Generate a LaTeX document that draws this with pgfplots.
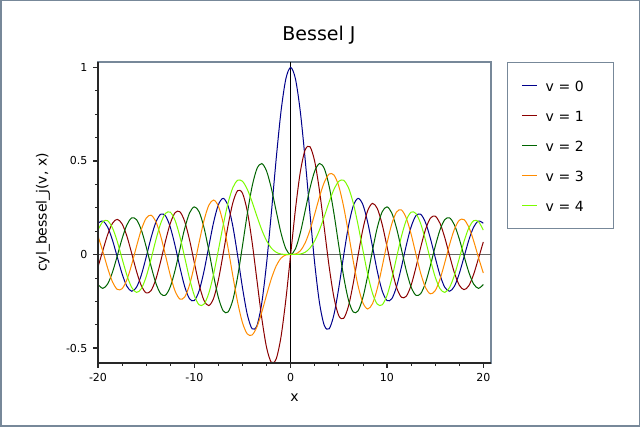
\documentclass[border=0pt]{standalone}
\usepackage{pgfplots}
\pgfplotsset{compat=1.18}
\usepackage{pgfplotstable}
\usepackage{fontspec}
\setmainfont{DejaVu Sans}
\definecolor{c0}{RGB}{0,0,139}
\definecolor{c1}{RGB}{139,0,0}
\definecolor{c2}{RGB}{0,100,0}
\definecolor{c3}{RGB}{255,140,0}
\definecolor{c4}{RGB}{124,252,0}
\definecolor{framecol}{RGB}{119,136,153}
\definecolor{axcol}{RGB}{40,40,40}
\pgfplotstableread{
x j0 j1 j2 j3 j4
-20 0.16702 -0.06683 -0.16034 0.09890 0.13067
-19.5 0.17885 0.02088 -0.18100 0.01625 0.17600
-19 0.14662 0.10570 -0.15775 -0.07249 0.18064
-18.5 0.07717 0.16663 -0.09518 -0.14606 0.14255
-18 -0.01336 0.18800 -0.00753 -0.18632 0.06964
-17.5 -0.10311 0.16342 0.08443 -0.18272 -0.02179
-17 -0.16985 0.09767 0.15836 -0.13493 -0.11074
-16.5 -0.19638 0.00576 0.19568 -0.05320 -0.17633
-16 -0.17490 -0.09040 0.18620 0.04385 -0.20264
-15.5 -0.10923 -0.16721 0.13081 0.13346 -0.18247
-15 -0.01422 -0.20510 0.04157 0.19402 -0.11918
-14.5 0.08755 -0.19343 -0.06087 0.21022 -0.02612
-14 0.17107 -0.13338 -0.15202 0.17681 0.07624
-13.5 0.21499 -0.03805 -0.20935 0.10008 0.16487
-13 0.20693 0.07032 -0.21774 -0.00332 0.21928
-12.5 0.14688 0.16549 -0.17336 -0.11001 0.22617
-12 0.04769 0.22345 -0.08493 -0.19514 0.18250
-11.5 -0.06765 0.22838 0.02794 -0.23810 0.09629
-11 -0.17119 0.17679 0.13905 -0.22735 -0.01504
-10.5 -0.23665 0.07885 0.22163 -0.16328 -0.12833
-10 -0.24594 -0.04347 0.25463 -0.05838 -0.21960
-9.5 -0.19393 -0.16126 0.22788 0.06532 -0.26913
-9 -0.09033 -0.24531 0.14485 0.18094 -0.26547
-8.5 0.04194 -0.27312 0.02233 0.26262 -0.20770
-8 0.17165 -0.23464 -0.11299 0.29113 -0.10536
-7.5 0.26634 -0.13525 -0.23027 0.25806 0.02383
-7 0.30008 0.00468 -0.30142 0.16756 0.15780
-6.5 0.26010 0.15384 -0.30743 0.03535 0.27480
-6 0.15065 0.27668 -0.24287 -0.11477 0.35764
-5.5 -0.00684 0.34144 -0.11732 -0.25612 0.39672
-5 -0.17760 0.32758 0.04657 -0.36483 0.39123
-4.5 -0.32054 0.23106 0.21785 -0.42470 0.34842
-4 -0.39715 0.06604 0.36413 -0.43017 0.28113
-3.5 -0.38013 -0.13738 0.45863 -0.38677 0.20441
-3 -0.26005 -0.33906 0.48609 -0.30906 0.13203
-2.5 -0.04838 -0.49709 0.44606 -0.21660 0.07378
-2 0.22389 -0.57672 0.35283 -0.12894 0.03400
-1.5 0.51183 -0.55794 0.23209 -0.06096 0.01177
-1 0.76520 -0.44005 0.11490 -0.01956 0.00248
-0.5 0.93847 -0.24227 0.03060 -0.00256 0.00016
0 1 0 0 0 0
0.5 0.93847 0.24227 0.03060 0.00256 0.00016
1 0.76520 0.44005 0.11490 0.01956 0.00248
1.5 0.51183 0.55794 0.23209 0.06096 0.01177
2 0.22389 0.57672 0.35283 0.12894 0.03400
2.5 -0.04838 0.49709 0.44606 0.21660 0.07378
3 -0.26005 0.33906 0.48609 0.30906 0.13203
3.5 -0.38013 0.13738 0.45863 0.38677 0.20441
4 -0.39715 -0.06604 0.36413 0.43017 0.28113
4.5 -0.32054 -0.23106 0.21785 0.42470 0.34842
5 -0.17760 -0.32758 0.04657 0.36483 0.39123
5.5 -0.00684 -0.34144 -0.11732 0.25612 0.39672
6 0.15065 -0.27668 -0.24287 0.11477 0.35764
6.5 0.26010 -0.15384 -0.30743 -0.03535 0.27480
7 0.30008 -0.00468 -0.30142 -0.16756 0.15780
7.5 0.26634 0.13525 -0.23027 -0.25806 0.02383
8 0.17165 0.23464 -0.11299 -0.29113 -0.10536
8.5 0.04194 0.27312 0.02233 -0.26262 -0.20770
9 -0.09033 0.24531 0.14485 -0.18094 -0.26547
9.5 -0.19393 0.16126 0.22788 -0.06532 -0.26913
10 -0.24594 0.04347 0.25463 0.05838 -0.21960
10.5 -0.23665 -0.07885 0.22163 0.16328 -0.12833
11 -0.17119 -0.17679 0.13905 0.22735 -0.01504
11.5 -0.06765 -0.22838 0.02794 0.23810 0.09629
12 0.04769 -0.22345 -0.08493 0.19514 0.18250
12.5 0.14688 -0.16549 -0.17336 0.11001 0.22617
13 0.20693 -0.07032 -0.21774 0.00332 0.21928
13.5 0.21499 0.03805 -0.20935 -0.10008 0.16487
14 0.17107 0.13338 -0.15202 -0.17681 0.07624
14.5 0.08755 0.19343 -0.06087 -0.21022 -0.02612
15 -0.01422 0.20510 0.04157 -0.19402 -0.11918
15.5 -0.10923 0.16721 0.13081 -0.13346 -0.18247
16 -0.17490 0.09040 0.18620 -0.04385 -0.20264
16.5 -0.19638 -0.00576 0.19568 0.05320 -0.17633
17 -0.16985 -0.09767 0.15836 0.13493 -0.11074
17.5 -0.10311 -0.16342 0.08443 0.18272 -0.02179
18 -0.01336 -0.18800 -0.00753 0.18632 0.06964
18.5 0.07717 -0.16663 -0.09518 0.14606 0.14255
19 0.14662 -0.10570 -0.15775 0.07249 0.18064
19.5 0.17885 -0.02088 -0.18100 -0.01625 0.17600
20 0.16702 0.06683 -0.16034 -0.09890 0.13067
}\bessel
\begin{document}
\begin{tikzpicture}
\useasboundingbox (0pt,0pt) rectangle (640pt,427pt);
\fill[white] (0pt,0pt) rectangle (640pt,427pt);
\draw[framecol, line width=1.5pt] (0.75pt,0.75pt) rectangle (639.25pt,426.25pt);
\node[font=\fontsize{19}{23}\selectfont, anchor=base, inner sep=0pt] at (319pt,386pt) {Bessel J};
\begin{axis}[
  at={(98pt,64pt)}, anchor=south west,
  scale only axis, width=393pt, height=301pt,
  xmin=-20, xmax=20.8, ymin=-0.58, ymax=1.029,
  axis line style={framecol, line width=1.8pt},
  tick pos=left, tick align=outside,
  major tick length=5pt, minor tick length=3pt,
  every major tick/.style={axcol, line width=1.4pt},
  every minor tick/.style={axcol, line width=0.7pt},
  xtick={-20,-10,0,10,20}, ytick={-0.5,0,0.5,1},
  minor tick num=3,
  /pgf/number format/assume math mode=true,
  ticklabel style={font=\fontsize{11}{13}\selectfont},
  xticklabel style={yshift=-2pt},
  yticklabel style={xshift=-2pt},
  xlabel={x}, ylabel={cyl\_bessel\_j(v, x)},
  label style={font=\fontsize{14}{17}\selectfont},
  xlabel style={anchor=center, at={(axis description cs:0.5,-0.1163)}},
  ylabel style={anchor=center, at={(axis description cs:-0.14,0.5)}},
  legend style={at={(1,1)}, anchor=north west, xshift=16pt,
    draw=framecol, line width=1.2pt, fill=white,
    font=\fontsize{14}{17}\selectfont,
    inner xsep=14pt, inner ysep=17pt, row sep=18pt, column sep=8pt,
    nodes={inner sep=0pt, text height=12pt, text depth=0pt, text width=54pt}},
  legend cell align=left,
  legend image code/.code={\draw[#1] (0pt,0pt) -- (15pt,0pt);},
]
\draw[black!60, line width=1.2pt] (axis cs:-20,0) -- (axis cs:20.8,0);
\draw[black, line width=0.8pt] (axis cs:0,-0.58) -- (axis cs:0,1.029);
\addplot[c0, line width=1pt, smooth] table[x=x, y=j0] {\bessel};
\addlegendentry{v = 0}
\addplot[c1, line width=1pt, smooth] table[x=x, y=j1] {\bessel};
\addlegendentry{v = 1}
\addplot[c2, line width=1pt, smooth] table[x=x, y=j2] {\bessel};
\addlegendentry{v = 2}
\addplot[c3, line width=1pt, smooth] table[x=x, y=j3] {\bessel};
\addlegendentry{v = 3}
\addplot[c4, line width=1pt, smooth] table[x=x, y=j4] {\bessel};
\addlegendentry{v = 4}
\end{axis}
\draw[axcol, line width=1.8pt] (98pt,365pt) -- (98pt,64pt) -- (491pt,64pt);
\end{tikzpicture}
\end{document}
